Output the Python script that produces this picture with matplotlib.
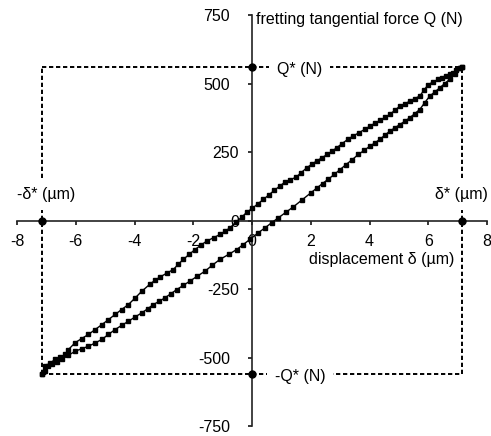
import matplotlib
matplotlib.use("Agg")
import matplotlib.pyplot as plt
import matplotlib.transforms as mtransforms

plt.rcParams['font.family'] = ['Liberation Sans', 'DejaVu Sans']

# loading branch (from -delta* up to +delta*)
load_x = [-7.15, -7.05, -6.93, -6.80, -6.65, -6.47, -6.25, -6.02, -5.80, -5.57,
          -5.34, -5.11, -4.89, -4.66, -4.44, -4.21, -3.98, -3.75, -3.55, -3.36,
          -3.16, -2.96, -2.76, -2.56, -2.34, -2.11, -1.86, -1.60, -1.35, -1.09,
          -0.80, -0.52, -0.30, -0.07, 0.21, 0.44, 0.67, 0.90, 1.15, 1.41,
          1.70, 2.00, 2.20, 2.40, 2.60, 2.80, 3.00, 3.20, 3.41, 3.62,
          3.82, 4.01, 4.18, 4.35, 4.52, 4.69, 4.86, 5.03, 5.20, 5.37,
          5.54, 5.71, 5.88, 6.05, 6.22, 6.39, 6.56, 6.73, 6.90, 7.07, 7.15]
load_q = [-560, -550, -532, -522, -515, -507, -492, -477, -468, -459,
          -447, -434, -416, -398, -383, -368, -352, -337, -322, -307,
          -295, -282, -267, -252, -237, -221, -203, -185, -163, -142,
          -124, -106, -88, -69, -45, -27, -8, 10, 30, 50,
          75, 101, 118, 135, 151, 168, 186, 204, 222, 241,
          256, 271, 283, 296, 311, 326, 338, 350, 362, 375,
          390, 405, 430, 454, 469, 484, 500, 515, 536, 557, 560]

# unloading branch (from +delta* back to -delta*)
unload_x = [7.15, 7.07, 6.96, 6.85, 6.74, 6.62, 6.48, 6.34, 6.17, 6.00,
            5.85, 5.71, 5.54, 5.37, 5.20, 5.03, 4.86, 4.69, 4.52, 4.35,
            4.18, 4.01, 3.84, 3.64, 3.45, 3.26, 3.07, 2.88, 2.72, 2.56,
            2.38, 2.20, 2.03, 1.86, 1.68, 1.50, 1.31, 1.12, 0.94, 0.76,
            0.58, 0.39, 0.20, 0.01, -0.17, -0.35, -0.55, -0.75, -0.92, -1.09,
            -1.31, -1.54, -1.74, -1.94, -2.14, -2.34, -2.51, -2.68, -2.90, -3.13,
            -3.30, -3.47, -3.75, -3.98, -4.21, -4.44, -4.66, -4.89, -5.11, -5.34,
            -5.57, -5.80, -6.02, -6.25, -6.36, -6.53, -6.70, -6.87, -7.04, -7.15]
unload_q = [560, 557, 548, 539, 533, 527, 521, 515, 506, 496,
            475, 454, 445, 435, 426, 417, 402, 387, 376, 365,
            355, 344, 333, 320, 309, 296, 281, 265, 253, 241,
            229, 217, 205, 192, 175, 158, 149, 140, 125, 110,
            94, 77, 61, 44, 31, 12, -6, -27, -39, -51,
            -63, -75, -90, -106, -124, -142, -160, -179, -192, -206,
            -218, -232, -258, -283, -307, -325, -343, -362, -380, -398,
            -416, -431, -446, -471, -489, -498, -507, -520, -532, -560]

delta_star = 7.15
q_star = 560
x_ticks = [-8, -6, -4, -2, 0, 2, 4, 6, 8]
y_ticks = [-750, -500, -250, 0, 250, 500, 750]

fs = 11.5

fig = plt.figure(figsize=(4.91, 4.36), dpi=100)
ax = fig.add_axes([17 / 491, 10 / 436, 470 / 491, 411 / 436])

# dashed box at +-delta*, +-Q*
dash = dict(color='black', lw=1.4, ls=(0, (2.2, 1.4)), zorder=1)
ax.plot([-delta_star, delta_star], [q_star, q_star], **dash)
ax.plot([-delta_star, delta_star], [-q_star, -q_star], **dash)
ax.plot([-delta_star, -delta_star], [-q_star, q_star], **dash)
ax.plot([delta_star, delta_star], [-q_star, q_star], **dash)

# fretting loop
ax.plot(load_x + unload_x, load_q + unload_q, color='black', lw=1.0,
        marker='s', markersize=2.2, zorder=3)

# reference dots on the axes
ax.plot([0, 0, -delta_star, delta_star], [q_star, -q_star, 0, 0], 'o',
        color='black', markersize=5, zorder=5, clip_on=False)

box = dict(boxstyle='square,pad=0.5', fc='white', ec='none')
ax.text(1.63, q_star - 10, 'Q* (N)', ha='center', va='center', fontsize=fs, bbox=box, zorder=2)
ax.text(1.63, -q_star - 10, '-Q* (N)', ha='center', va='center', fontsize=fs, bbox=box, zorder=2)
ax.text(-7.0, 95, '-\u03b4* (\u00b5m)', ha='center', va='center', fontsize=fs, bbox=box, zorder=2)
ax.text(7.13, 95, '\u03b4* (\u00b5m)', ha='center', va='center', fontsize=fs, bbox=box, zorder=2,
        clip_on=False)
ax.text(0.14, 732, 'fretting tangential force Q (N)', ha='left', va='center', fontsize=fs)
ax.text(4.42, -142, 'displacement \u03b4 (\u00b5m)', ha='center', va='center', fontsize=fs)

ax.set_xlim(-8, 8)
ax.set_ylim(-750, 750)
ax.set_xticks(x_ticks)
ax.set_yticks(y_ticks)
ax.set_xticklabels([str(v) for v in x_ticks])
ax.set_yticklabels([str(v) for v in y_ticks])

ax.spines['left'].set_position(('data', 0))
ax.spines['bottom'].set_position(('data', 0))
ax.spines['top'].set_visible(False)
ax.spines['right'].set_visible(False)
for s in ('left', 'bottom'):
    ax.spines[s].set_linewidth(1.2)
    ax.spines[s].set_color('#222222')
ax.tick_params(axis='x', direction='out', length=3, width=1.1, pad=7, labelsize=fs)
ax.tick_params(axis='y', direction='out', length=3, width=1.1, pad=13, labelsize=fs)

# the inner y labels sit closer to the axis in the original
shift = mtransforms.ScaledTranslation(9 / 100, 0, fig.dpi_scale_trans)
for lab, v in zip(ax.get_yticklabels(), y_ticks):
    if v in (-250, 0, 250):
        lab.set_transform(lab.get_transform() + shift)

fig.savefig('out.png', dpi=100)
